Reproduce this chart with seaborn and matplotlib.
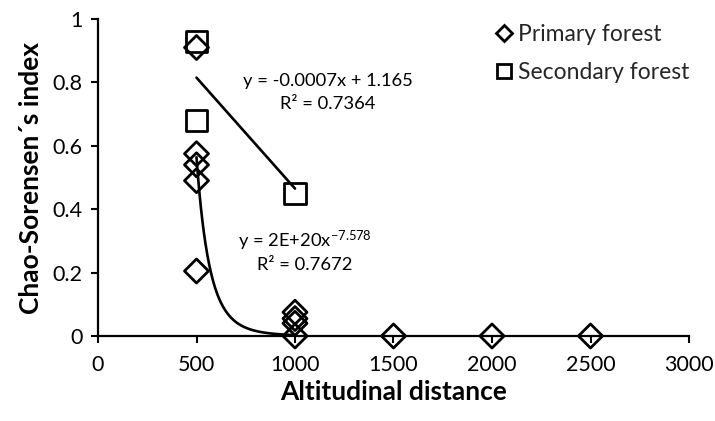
import numpy as np
import pandas as pd
import matplotlib
matplotlib.use("Agg")
import matplotlib.pyplot as plt
import seaborn as sns
from matplotlib.lines import Line2D

# ---- data ----
primary_x = [500, 500, 500, 500, 500, 1000, 1000, 1000, 1000, 1500, 2000, 2500]
primary_y = [0.91, 0.575, 0.54, 0.49, 0.205, 0.075, 0.055, 0.04, 0.0, 0.0, 0.0, 0.0]
secondary_x = [500, 500, 1000]
secondary_y = [0.93, 0.68, 0.45]

# trendline parameters (power trend for primary, linear trend for secondary)
power_a = 1.6e20
power_b = -7.578
lin_slope = -0.0007
lin_intercept = 1.165
eq_primary = "y = 2E+20x$^{\\mathregular{-7.578}}$"
r2_primary = "R\u00b2 = 0.7672"
eq_secondary = "y = -0.0007x + 1.165"
r2_secondary = "R\u00b2 = 0.7364"

x_ticks = [0, 500, 1000, 1500, 2000, 2500, 3000]
y_ticks = [0, 0.2, 0.4, 0.6, 0.8, 1.0]
y_tick_labels = ["0", "0.2", "0.4", "0.6", "0.8", "1"]

sns.set_theme(style="white")
plt.rcParams["font.family"] = ["Lato", "DejaVu Sans"]
plt.rcParams["mathtext.default"] = "regular"

fig = plt.figure(figsize=(7.15, 4.21), dpi=100)
ax = fig.add_axes([98 / 715, 1 - 336 / 421, (689 - 98) / 715, (336 - 19) / 421])

df_p = pd.DataFrame({"x": primary_x, "y": primary_y})
df_s = pd.DataFrame({"x": secondary_x, "y": secondary_y})

# trend curves
xp = np.linspace(min(primary_x), 1000, 200)
df_pt = pd.DataFrame({"x": xp, "y": power_a * xp ** power_b})
xs = np.linspace(min(secondary_x), max(secondary_x), 2)
df_st = pd.DataFrame({"x": xs, "y": lin_slope * xs + lin_intercept})

sns.lineplot(data=df_pt, x="x", y="y", ax=ax, color="black", lw=1.9, sort=False, zorder=2)
sns.lineplot(data=df_st, x="x", y="y", ax=ax, color="black", lw=1.9, sort=False, zorder=2)

sns.scatterplot(data=df_p, x="x", y="y", ax=ax, marker="D", s=150,
                facecolors="none", edgecolor="black", linewidth=2.0, zorder=3, clip_on=False)
sns.scatterplot(data=df_s, x="x", y="y", ax=ax, marker="s", s=230,
                facecolors="none", edgecolor="black", linewidth=2.0, zorder=3, clip_on=False)

ax.set_xlim(0, 3000)
ax.set_ylim(0, 1)
ax.set_xticks(x_ticks)
ax.set_xticklabels([str(v) for v in x_ticks])
ax.set_yticks(y_ticks)
ax.set_yticklabels(y_tick_labels)
ax.tick_params(axis="both", direction="out", length=5, width=1.5, color="black",
               labelsize=15.5, labelcolor="black", bottom=True, left=True)
ax.tick_params(axis="x", pad=9)
ax.tick_params(axis="y", pad=6)
for side in ["top", "right"]:
    ax.spines[side].set_visible(False)
for side in ["left", "bottom"]:
    ax.spines[side].set_color("black")
    ax.spines[side].set_linewidth(1.6)
ax.grid(False)

ax.set_xlabel("Altitudinal distance", fontsize=19, fontweight="bold", labelpad=3, color="black")
ax.set_ylabel("Chao-Sorensen\u00b4s index", fontsize=19, fontweight="bold", labelpad=7, color="black")

# equations
ax.text(1165, 0.805, eq_secondary, fontsize=13.2, ha="center", va="center", color="black")
ax.text(1165, 0.732, r2_secondary, fontsize=13.2, ha="center", va="center", color="black")
ax.text(1050, 0.30, eq_primary, fontsize=13.2, ha="center", va="center", color="black")
ax.text(1050, 0.225, r2_primary, fontsize=13.2, ha="center", va="center", color="black")

handles = [
    Line2D([], [], marker="D", ls="none", mfc="none", mec="black", mew=2.0, ms=8),
    Line2D([], [], marker="s", ls="none", mfc="none", mec="black", mew=2.0, ms=10),
]
leg = ax.legend(handles, ["Primary forest", "Secondary forest"], loc="upper left",
                bbox_to_anchor=(486 / 715, 1 - 15 / 421), bbox_transform=fig.transFigure,
                frameon=False, fontsize=16.5, handlelength=0.8, handletextpad=0.2,
                labelspacing=0.75, borderaxespad=0)

fig.savefig("out.png", dpi=100)
